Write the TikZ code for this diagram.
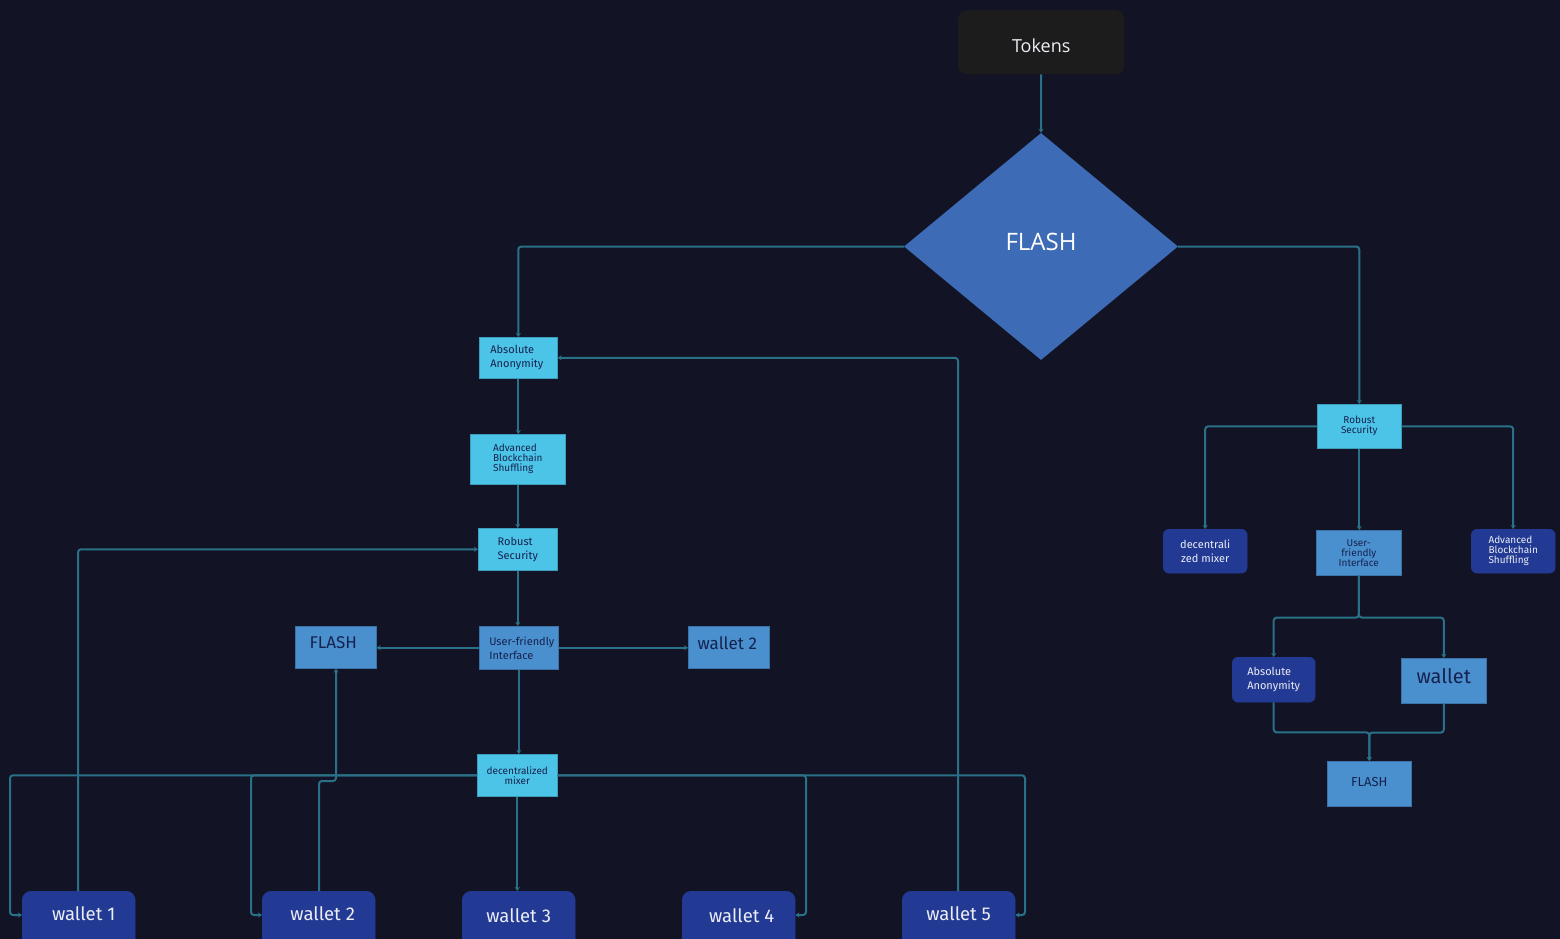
\documentclass[tikz,border=0pt]{standalone}
\usepackage{fontspec}
\setmainfont{Fira Sans}
\newfontfamily\segoe{Open Sans}
\usetikzlibrary{shapes.geometric,arrows.meta,calc}
\definecolor{bg}{RGB}{18,20,38}
\definecolor{tokfill}{RGB}{28,28,28}
\definecolor{diafill}{RGB}{61,107,181}
\definecolor{cyanfill}{RGB}{76,196,232}
\definecolor{midfill}{RGB}{74,144,207}
\definecolor{darkfill}{RGB}{35,58,148}
\definecolor{conncol}{RGB}{42,112,134}
\definecolor{navytext}{RGB}{22,34,78}
\definecolor{lighttext}{RGB}{235,238,245}
\tikzset{
  base/.style={anchor=north west, inner sep=0pt, align=center},
  cyanbox/.style={base, fill=cyanfill, draw=cyanfill!80!black, line width=0.6pt, text=navytext},
  midbox/.style={base, fill=midfill, draw=midfill!80!black, line width=0.6pt, text=navytext},
  darkbox/.style={base, fill=darkfill, draw=darkfill, rounded corners=7pt, text=lighttext},
  walletbox/.style={base, fill=darkfill, draw=darkfill, rounded corners=9pt, text=lighttext, minimum width=113pt, minimum height=60pt, font=\fontsize{18.5}{18.5}\selectfont},
  conn/.style={draw=conncol, line width=2pt, rounded corners=3pt, -{Stealth[length=4pt,width=5pt]}},
  sm/.style={font=\fontsize{11}{14}\selectfont},
  tiny/.style={font=\fontsize{10}{10}\selectfont},
}
\begin{document}
\begin{tikzpicture}[x=1pt,y=-1pt]
\fill[bg] (0,0) rectangle (1560,939);
\useasboundingbox (0,0) rectangle (1560,939);

% top
\node[base, fill=tokfill, rounded corners=9pt, minimum width=166pt, minimum height=64pt, text=lighttext, font=\segoe\fontsize{18}{18}\selectfont] (tok) at (958,10) {\raisebox{-10.5pt}[0pt][0pt]{Tokens}};
\node[diamond, fill=diafill, minimum width=274pt, minimum height=227pt, inner sep=0pt, text=white, font=\segoe\fontsize{24}{24}\selectfont] (dia) at (1041,246.5) {\raisebox{10pt}{FLASH}};

% left column
\node[cyanbox, sm, align=left, minimum width=78pt, minimum height=41pt] (aa1) at (479,337) {Absolute\\Anonymity\hspace*{3pt}};
\node[cyanbox, tiny, align=left, minimum width=95pt, minimum height=50pt] (abs1) at (470,434) {Advanced\\Blockchain\\Shuffling};
\node[cyanbox, sm, align=left, minimum width=79pt, minimum height=42pt] (rs1) at (478,528) {Robust\\Security};
\node[midbox, sm, align=left, minimum width=79pt, minimum height=43pt] (ufi1) at (479,626) {\hspace*{6pt}User-friendly\\\hspace*{6pt}Interface};
\node[midbox, minimum width=81pt, minimum height=42pt, font=\fontsize{17}{17}\selectfont] (fl1) at (295,626) {\raisebox{9pt}{FLASH\hspace*{5pt}}};
\node[midbox, minimum width=81pt, minimum height=42pt, font=\fontsize{17}{17}\selectfont] (w2b) at (688,626) {\raisebox{9pt}{wallet 2\hspace*{3pt}}};
\node[cyanbox, tiny, minimum width=80pt, minimum height=42pt] (dm1) at (477,754) {decentralized\\mixer};

\node[walletbox] (w1) at (22,891) {\raisebox{16pt}{\hspace*{10pt}wallet 1}};
\node[walletbox] (w2) at (262,891) {\raisebox{16pt}{\hspace*{8pt}wallet 2}};
\node[walletbox] (w3) at (462,891) {\raisebox{12pt}{wallet 3}};
\node[walletbox] (w4) at (682,891) {\raisebox{12pt}{\hspace*{6pt}wallet 4}};
\node[walletbox] (w5) at (902,891) {\raisebox{16pt}{wallet 5}};

% right column
\node[cyanbox, tiny, minimum width=84pt, minimum height=44pt] (rs2) at (1317,404) {Robust\\Security};
\node[darkbox, sm, minimum width=84pt, minimum height=44pt, rounded corners=6pt] (dm2) at (1163,529) {decentrali\\zed mixer};
\node[midbox, tiny, minimum width=85pt, minimum height=45pt] (ufi2) at (1316,530) {User-\\friendly\\Interface};
\node[darkbox, tiny, align=left, minimum width=84pt, minimum height=44pt, rounded corners=6pt] (abs2) at (1471,529) {Advanced\\Blockchain\\Shuffling};
\node[darkbox, sm, align=left, minimum width=83pt, minimum height=45pt, rounded corners=6pt] (aa2) at (1232,657) {Absolute\\Anonymity};
\node[midbox, minimum width=85pt, minimum height=45pt, font=\fontsize{20}{20}\selectfont] (wr) at (1401,658) {\raisebox{9pt}{wallet}};
\node[midbox, minimum width=84pt, minimum height=45pt, font=\fontsize{13}{13}\selectfont] (fl2) at (1327,761) {\raisebox{4pt}{FLASH}};

% connectors top
\draw[conn] (tok.south) -- (dia.north);
\draw[conn] (dia.west) -| (aa1.north);
\draw[conn] (dia.east) -| (rs2.north);

% left column chain
\draw[conn] (aa1.south) -- (aa1.south |- abs1.north);
\draw[conn] (abs1.south) -- (abs1.south |- rs1.north);
\draw[conn] (rs1.south) -- (rs1.south |- ufi1.north);
\draw[conn] (ufi1.west) -- (ufi1.west -| fl1.east);
\draw[conn] (ufi1.east) -- (ufi1.east -| w2b.west);
\draw[conn] (ufi1.south) -- (ufi1.south |- dm1.north);
\draw[conn] (dm1.south) -- (dm1.south |- w3.north);

% mixer to wallets
\coordinate (wy) at (0,915);
\draw[conn] (dm1.west) -| (10,915) -- (w1.west |- wy);
\draw[conn] (dm1.west) -| (251,915) -- (w2.west |- wy);
\draw[conn] (dm1.east) -| (806,915) -- (w4.east |- wy);
\draw[conn] (dm1.east) -| (1025,915) -- (w5.east |- wy);

% wallets back up
\draw[conn] (w1.north -| 78,0) |- (rs1.west);
\draw[conn] (w2.north -| 319,0) |- (336,781) -- (fl1.south -| 336,0);
\draw[conn] (w5.north -| 958,0) |- (aa1.east);

% right column
\draw[conn] (rs2.west) -| (dm2.north);
\draw[conn] (rs2.east) -| (abs2.north);
\draw[conn] (rs2.south) -- (rs2.south |- ufi2.north);
\draw[conn] (ufi2.south) -- ++(0,42) -| (aa2.north);
\draw[conn] (ufi2.south) -- ++(0,42) -| (wr.north);
\draw[conn] (aa2.south) -- ++(0,30) -| (fl2.north);
\draw[conn] (wr.south) -- ++(0,29) -| (fl2.north);
\end{tikzpicture}
\end{document}
